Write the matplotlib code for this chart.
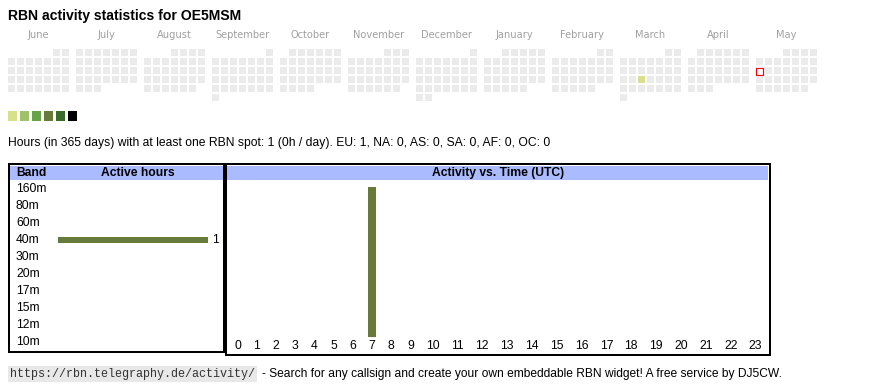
import calendar
import datetime as dt
import matplotlib
matplotlib.use('Agg')
import matplotlib.pyplot as plt
from matplotlib.patches import Rectangle
from matplotlib.transforms import blended_transform_factory

# ---- data ----
callsign = 'OE5MSM'
month_names = ['June', 'July', 'August', 'September', 'October', 'November',
               'December', 'January', 'February', 'March', 'April', 'May']
first_month = (2024, 6)
today = dt.date(2025, 5, 12)
active_days = {dt.date(2025, 3, 19): 0}   # day -> level index
level_colors = ['#d9e08b', '#9dc36a', '#68a347', '#677a3a', '#3b6b2a', '#000000']
empty_color = '#ebebeb'

bands = ['160m', '80m', '60m', '40m', '30m', '20m', '17m', '15m', '12m', '10m']
band_hours = [0, 0, 0, 1, 0, 0, 0, 0, 0, 0]
hours = ['0', '1', '2', '3', '4', '5', '6', '7', '8', '9', '10', '11',
         '12', '13', '14', '15', '16', '17', '18', '19', '20', '21', '22', '23']
hour_counts = [0, 0, 0, 0, 0, 0, 0, 1, 0, 0, 0, 0,
               0, 0, 0, 0, 0, 0, 0, 0, 0, 0, 0, 0]
summary = 'Hours (in 365 days) with at least one RBN spot: 1 (0h / day). EU: 1, NA: 0, AS: 0, SA: 0, AF: 0, OC: 0'
url = 'https://rbn.telegraphy.de/activity/'
footer = '- Search for any callsign and create your own embeddable RBN widget! A free service by DJ5CW.'

W, H = 870, 390
SANS = 'Liberation Sans'
bar_color = '#677a3a'
head_color = '#aabbff'


def px(lw):
    return lw * 0.72


def frac(x, y, w, h):
    return [x / W, 1 - (y + h) / H, w / W, h / H]


fig = plt.figure(figsize=(W / 100, H / 100), dpi=100)
bg = fig.add_axes([0, 0, 1, 1])
bg.set_xlim(0, W)
bg.set_ylim(H, 0)
bg.axis('off')

bg.text(8, 16, 'RBN activity statistics for ' + callsign, family=SANS, fontsize=10.1,
        fontweight='bold', va='center', ha='left')

# ---- calendar ----
cal_x0, cal_y0, step, cell, block = 8, 49, 9, 7, 68
for m, name in enumerate(month_names):
    y = first_month[0] + (first_month[1] - 1 + m) // 12
    mo = (first_month[1] - 1 + m) % 12 + 1
    first = dt.date(y, mo, 1)
    x0 = cal_x0 + m * block
    bg.text(x0 + 3 * step + cell / 2, 35, name, family='DejaVu Sans', fontsize=7.1,
            color='#a0a0a0', ha='center', va='center')
    for d in range(1, calendar.monthrange(y, mo)[1] + 1):
        day = dt.date(y, mo, d)
        row = (d - 1 + first.weekday()) // 7
        col = day.weekday()
        cx, cy = x0 + col * step, cal_y0 + row * step
        if day == today:
            bg.add_patch(Rectangle((cx + 0.5, cy + 0.5), cell, cell, facecolor='white',
                                   edgecolor='red', lw=px(1.2)))
        else:
            c = level_colors[active_days[day]] if day in active_days else empty_color
            bg.add_patch(Rectangle((cx, cy), cell, cell, facecolor=c, edgecolor='none'))

for i, c in enumerate(level_colors):
    bg.add_patch(Rectangle((8 + 12 * i, 111), 9.5, 9.7, facecolor=c, edgecolor='none'))

bg.text(8, 143, summary, family=SANS, fontsize=8.7, va='center', ha='left')

# ---- tables ----
bg.add_patch(Rectangle((10, 165.5), 213.5, 14.5, facecolor=head_color, edgecolor='none'))
bg.add_patch(Rectangle((227, 165.5), 541.5, 14.5, facecolor=head_color, edgecolor='none'))
bg.add_patch(Rectangle((9, 164), 215.2, 188, fill=False, edgecolor='black', lw=px(2)))
bg.add_patch(Rectangle((225.8, 164), 543.8, 190.5, fill=False, edgecolor='black', lw=px(2)))
bg.text(16, 173, 'Band', family=SANS, fontsize=8.7, fontweight='bold', va='center')
bg.text(138, 173, 'Active hours', family=SANS, fontsize=8.7, fontweight='bold',
        va='center', ha='center')
bg.text(498, 173, 'Activity vs. Time (UTC)', family=SANS, fontsize=8.7,
        fontweight='bold', va='center', ha='center')

# band bars
ax_l = fig.add_axes(frac(58, 180.5, 150, 170))
ax_l.barh(range(len(bands)), band_hours, height=0.35, color=bar_color)
ax_l.set_xlim(0, max(band_hours))
ax_l.set_ylim(len(bands) - 0.5, -0.5)
ax_l.axis('off')
tr = blended_transform_factory(bg.transData, ax_l.transData)
for i, (b, v) in enumerate(zip(bands, band_hours)):
    ax_l.text(16, i, b, transform=tr, family=SANS, fontsize=8.7, va='center')
    if v:
        ax_l.annotate(str(v), (v, i), xytext=(4, 0), textcoords='offset pixels',
                      family=SANS, fontsize=8.7, va='center')

# hour bars: html columns are wider for two-digit labels
widths = [19.2 if len(h) == 1 else 24.86 for h in hours]
edges = [228]
for w in widths:
    edges.append(edges[-1] + w)
centers = [(a + b) / 2 for a, b in zip(edges[:-1], edges[1:])]
ax_r = fig.add_axes(frac(228, 187, 540, 150))
ax_r.bar(centers, hour_counts, width=8, color=bar_color)
ax_r.set_xlim(228, 768)
ax_r.set_ylim(0, max(hour_counts))
ax_r.axis('off')
tr = blended_transform_factory(ax_r.transData, bg.transData)
for c, h in zip(centers, hours):
    ax_r.text(c, 346, h, transform=tr, family=SANS, fontsize=8.7, va='center', ha='center')

# ---- footer ----
bg.text(10, 374, url, family='Liberation Mono', fontsize=8.45, va='center', ha='left',
        color='#333333',
        bbox=dict(boxstyle='square,pad=0.15', facecolor='#e8e8e8', edgecolor='none'))
bg.text(262, 374, footer, family=SANS, fontsize=8.66, va='center', ha='left')

fig.savefig('out.png', dpi=100)
